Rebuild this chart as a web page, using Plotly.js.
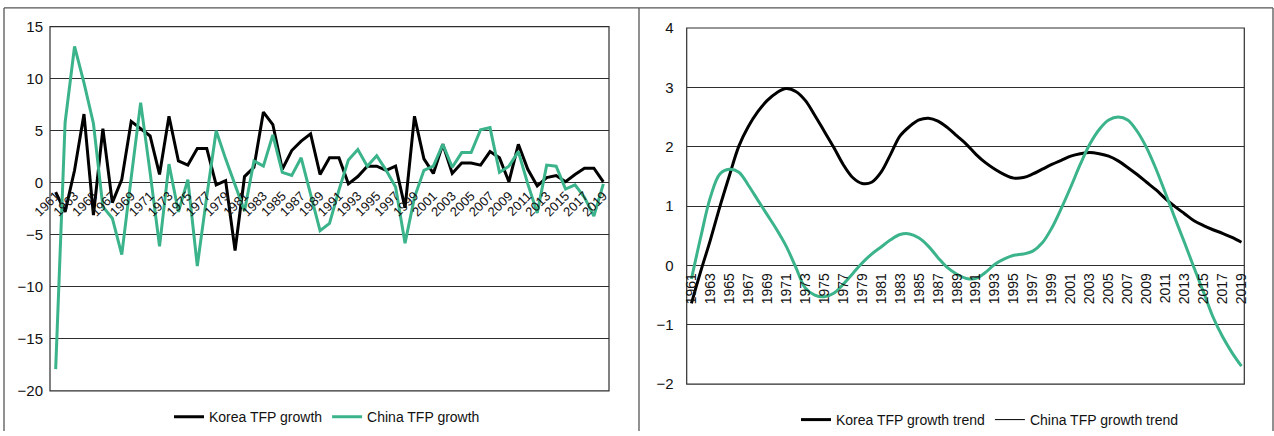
<!DOCTYPE html>
<html>
<head>
<meta charset="utf-8">
<script src="https://cdn.plot.ly/plotly-3.0.1.min.js"></script>
<style>
html,body{margin:0;padding:0;background:#fff;}
#chart{width:1274px;height:436px;}
</style>
</head>
<body>
<div id="chart"></div>
<script>
const years = [1961,1962,1963,1964,1965,1966,1967,1968,1969,1970,
  1971,1972,1973,1974,1975,1976,1977,1978,1979,1980,
  1981,1982,1983,1984,1985,1986,1987,1988,1989,1990,
  1991,1992,1993,1994,1995,1996,1997,1998,1999,2000,
  2001,2002,2003,2004,2005,2006,2007,2008,2009,2010,
  2011,2012,2013,2014,2015,2016,2017,2018,2019];

const tickYears = [1961,1963,1965,1967,1969,1971,1973,1975,1977,1979,
  1981,1983,1985,1987,1989,1991,1993,1995,1997,1999,
  2001,2003,2005,2007,2009,2011,2013,2015,2017,2019];

const koreaTFP = [-0.9,-2.8,1.2,6.6,-3.1,5.2,-1.9,0.3,5.9,5.2,
  4.5,0.8,6.4,2.1,1.7,3.3,3.3,-0.2,0.2,-6.5,
  0.6,1.5,6.8,5.6,1.3,3.1,4.0,4.7,0.8,2.4,
  2.4,-0.1,0.6,1.6,1.6,1.2,1.6,-2.4,6.4,2.3,
  0.9,3.7,0.9,1.9,1.9,1.7,3.0,2.4,0.1,3.7,
  1.3,-0.3,0.5,0.7,0.1,0.8,1.4,1.4,0.1];

const chinaTFP = [-17.9,5.8,13.1,9.6,5.7,-2.3,-3.4,-6.9,0.5,7.7,
  1.0,-6.1,1.8,-2.8,0.3,-8.0,-1.3,5.0,2.3,-0.2,
  -2.7,2.1,1.6,4.6,1.0,0.7,2.4,-1.1,-4.6,-3.9,
  -0.7,2.2,3.2,1.6,2.6,1.2,-0.4,-5.8,-1.4,1.2,
  1.6,3.7,1.5,2.9,2.9,5.1,5.3,1.0,1.6,3.0,
  -0.1,-2.9,1.7,1.6,-0.6,-0.2,-1.4,-3.2,-0.1];

const koreaTrend = [-0.64,-0.09,0.43,0.99,1.51,2.01,2.34,2.59,2.78,2.91,
  2.98,2.93,2.78,2.53,2.26,1.99,1.70,1.48,1.38,1.40,
  1.57,1.87,2.18,2.34,2.45,2.48,2.43,2.32,2.18,2.04,
  1.87,1.73,1.62,1.53,1.47,1.48,1.54,1.62,1.70,1.77,
  1.84,1.88,1.90,1.88,1.84,1.76,1.65,1.53,1.40,1.27,
  1.12,0.99,0.87,0.75,0.67,0.60,0.54,0.47,0.39];

const chinaTrend = [-0.23,0.49,1.15,1.54,1.62,1.57,1.35,1.10,0.85,0.60,
  0.32,-0.03,-0.38,-0.50,-0.53,-0.47,-0.32,-0.14,0.04,0.19,
  0.31,0.43,0.52,0.53,0.46,0.32,0.13,-0.04,-0.15,-0.22,
  -0.22,-0.12,0.02,0.11,0.17,0.19,0.24,0.38,0.63,0.96,
  1.32,1.70,2.04,2.29,2.45,2.50,2.45,2.26,1.98,1.62,
  1.21,0.79,0.38,-0.04,-0.45,-0.87,-1.20,-1.47,-1.70];

const leftNames = ['Korea TFP growth','China TFP growth'];
const rightNames = ['Korea TFP growth trend','China TFP growth trend'];

const W = 1274, H = 436;
const FONT = "'Liberation Sans',Arial,sans-serif";
const GREEN = '#3bb38b';
const GRID = '#2e2e2e';

const y1Range = [-20, 15], y2Range = [-2, 4];
const x1Dom = [50/W, 609/W], y1Dom = [1-395.5/H, 1-27/H];
const x2Dom = [686.7/W, 1244.3/W], y2Dom = [1-388.5/H, 1-28.3/H];
function zeroPos(dom, rng){ return dom[0] + (dom[1]-dom[0])*(0-rng[0])/(rng[1]-rng[0]); }

const traces = [
  {x: years, y: koreaTFP, name: leftNames[0], type: 'scatter', mode: 'lines',
   line: {color: '#000', width: 3}, xaxis: 'x', yaxis: 'y', legend: 'legend'},
  {x: years, y: chinaTFP, name: leftNames[1], type: 'scatter', mode: 'lines',
   line: {color: GREEN, width: 3}, xaxis: 'x', yaxis: 'y', legend: 'legend'},
  {x: years, y: koreaTrend, name: rightNames[0], type: 'scatter', mode: 'lines',
   line: {color: '#000', width: 3, shape: 'spline', smoothing: 1}, xaxis: 'x2', yaxis: 'y2', legend: 'legend2'},
  {x: years, y: chinaTrend, name: rightNames[1], type: 'scatter', mode: 'lines', showlegend: false,
   line: {color: GREEN, width: 3, shape: 'spline', smoothing: 1}, xaxis: 'x2', yaxis: 'y2'},
  {x: [null], y: [null], name: rightNames[1], type: 'scatter', mode: 'lines',
   line: {color: '#000', width: 1}, xaxis: 'x2', yaxis: 'y2', legend: 'legend2'}
];

const xCommon = {
  type: 'linear', showgrid: false, zeroline: false, showline: false,
  tickvals: tickYears, ticktext: tickYears.map(String), ticks: '',
  automargin: false, fixedrange: true
};
const yCommon = {
  showgrid: true, gridcolor: GRID, gridwidth: 1, zeroline: true, zerolinecolor: GRID, zerolinewidth: 1,
  showline: false, ticks: '', tickfont: {family: FONT, size: 15, color: '#111'}, automargin: false
};

const layout = {
  width: W, height: H,
  margin: {l: 0, r: 0, t: 0, b: 0},
  paper_bgcolor: '#fff', plot_bgcolor: '#fff',
  font: {family: FONT, color: '#111'},
  xaxis: Object.assign({}, xCommon, {domain: x1Dom, range: [1960.4, 2019.6], anchor: 'free',
    position: zeroPos(y1Dom, y1Range), tickangle: -45, ticklabelstandoff: 2,
    tickfont: {family: FONT, size: 13, color: '#111'}}),
  yaxis: Object.assign({}, yCommon, {domain: y1Dom, range: y1Range, tickvals: [-20,-15,-10,-5,0,5,10,15],
    anchor: 'x', ticklabelstandoff: 6}),
  xaxis2: Object.assign({}, xCommon, {domain: x2Dom, range: [1960.5, 2019.3], anchor: 'free',
    position: zeroPos(y2Dom, y2Range), tickangle: -90, ticklabelstandoff: 4,
    tickfont: {family: FONT, size: 14, color: '#111'}}),
  yaxis2: Object.assign({}, yCommon, {domain: y2Dom, range: y2Range, tickvals: [-2,-1,0,1,2,3,4],
    anchor: 'x2', ticklabelstandoff: 12}),
  legend: {orientation: 'h', x: 327/W, xanchor: 'center', y: 1-422/H, yanchor: 'middle',
    font: {family: FONT, size: 14, color: '#111'}, bgcolor: 'rgba(0,0,0,0)'},
  legend2: {orientation: 'h', x: 990/W, xanchor: 'center', y: 1-425/H, yanchor: 'middle',
    font: {family: FONT, size: 14, color: '#111'}, bgcolor: 'rgba(0,0,0,0)'},
  shapes: [
    {type: 'rect', xref: 'x domain', yref: 'y domain', x0: 0, x1: 1, y0: 0, y1: 1,
     line: {color: GRID, width: 1.2}, layer: 'below'},
    {type: 'rect', xref: 'x2 domain', yref: 'y2 domain', x0: 0, x1: 1, y0: 0, y1: 1,
     line: {color: GRID, width: 1.2}, layer: 'below'},
    {type: 'line', xref: 'paper', yref: 'paper', x0: 4/W, x1: 1273/W, y0: 1-8/H, y1: 1-8/H,
     line: {color: '#555', width: 1.3}},
    {type: 'line', xref: 'paper', yref: 'paper', x0: 4/W, x1: 4/W, y0: 0, y1: 1-8/H,
     line: {color: '#555', width: 1.3}},
    {type: 'line', xref: 'paper', yref: 'paper', x0: 1273/W, x1: 1273/W, y0: 0, y1: 1-8/H,
     line: {color: '#555', width: 1.3}},
    {type: 'line', xref: 'paper', yref: 'paper', x0: 639/W, x1: 639/W, y0: 0, y1: 1-8/H,
     line: {color: '#555', width: 1.3}}
  ]
};

Plotly.newPlot('chart', traces, layout, {staticPlot: true, displayModeBar: false});
</script>
</body>
</html>
